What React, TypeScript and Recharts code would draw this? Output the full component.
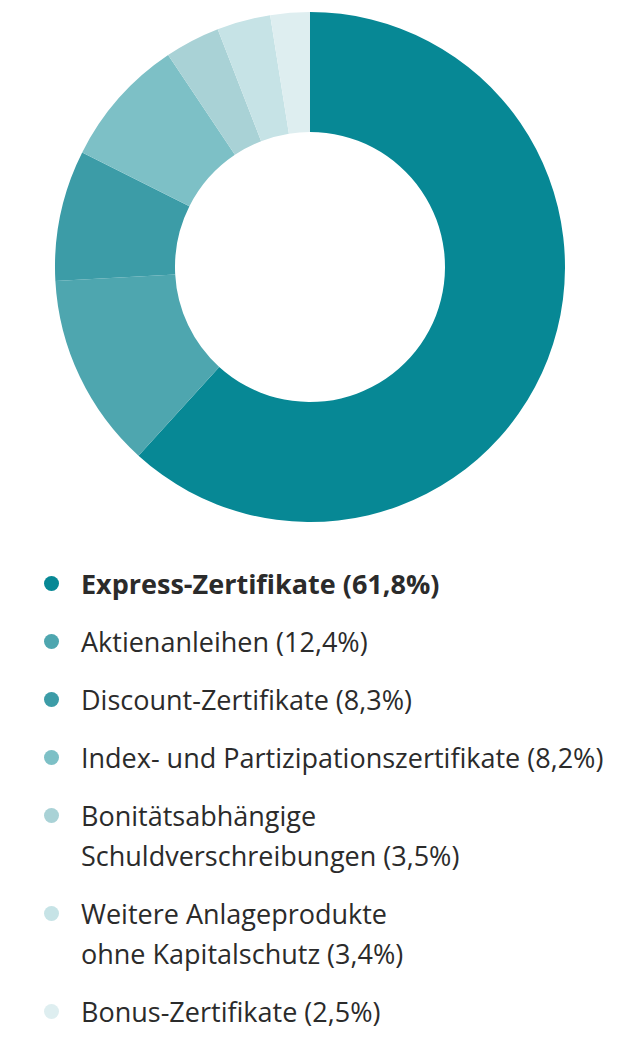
import { PieChart, Pie, Cell } from 'recharts'

const categories = [
  'Express-Zertifikate',
  'Aktienanleihen',
  'Discount-Zertifikate',
  'Index- und Partizipationszertifikate',
  'Bonitätsabhängige Schuldverschreibungen',
  'Weitere Anlageprodukte ohne Kapitalschutz',
  'Bonus-Zertifikate',
]
const shares = [61.8, 12.4, 8.3, 8.2, 3.5, 3.4, 2.5]
const shareLabels = ['61,8%', '12,4%', '8,3%', '8,2%', '3,5%', '3,4%', '2,5%']
// where the long names break onto a second line
const lineBreaks = [0, 0, 0, 0, 1, 2, 0]
const colors = ['#078895', '#4ea6af', '#3c9ca7', '#7dc0c6', '#a9d2d6', '#c6e3e6', '#deeef0']

const data = categories.map((name, i) => ({ name, value: shares[i] }))

function LegendList() {
  return (
    <ul style={{ listStyle: 'none', margin: 0, padding: 0 }}>
      {categories.map((name, i) => {
        const words = name.split(' ')
        const cut = lineBreaks[i]
        const full = `${name} (${shareLabels[i]})`
        const lines = cut
          ? [words.slice(0, cut).join(' '), `${words.slice(cut).join(' ')} (${shareLabels[i]})`]
          : [full]
        return (
          <li
            key={name}
            style={{
              display: 'flex',
              alignItems: 'flex-start',
              marginBottom: 18,
              fontWeight: i === 0 ? 700 : 400,
            }}
          >
            <span
              style={{
                width: 15,
                height: 15,
                borderRadius: '50%',
                background: colors[i],
                marginTop: 12,
                marginLeft: 36,
                marginRight: 22,
                flexShrink: 0,
              }}
            />
            <div>
              {lines.map((l) => (
                <div key={l} style={{ height: 40, lineHeight: '40px', whiteSpace: 'nowrap' }}>
                  {l}
                </div>
              ))}
            </div>
          </li>
        )
      })}
    </ul>
  )
}

export default function App() {
  return (
    <div style={{ width: 620, fontFamily: '"Open Sans", sans-serif', fontSize: 27, color: '#2b2b2b' }}>
      <PieChart width={620} height={556} margin={{ top: 0, right: 0, bottom: 0, left: 0 }}>
        <Pie
          data={data}
          dataKey="value"
          nameKey="name"
          cx={302}
          cy={259}
          outerRadius={255}
          innerRadius={135}
          startAngle={90}
          endAngle={-270}
          stroke="none"
          isAnimationActive={false}
        >
          {data.map((d, i) => (
            <Cell key={d.name} fill={colors[i]} />
          ))}
        </Pie>
      </PieChart>
      <LegendList />
    </div>
  )
}
